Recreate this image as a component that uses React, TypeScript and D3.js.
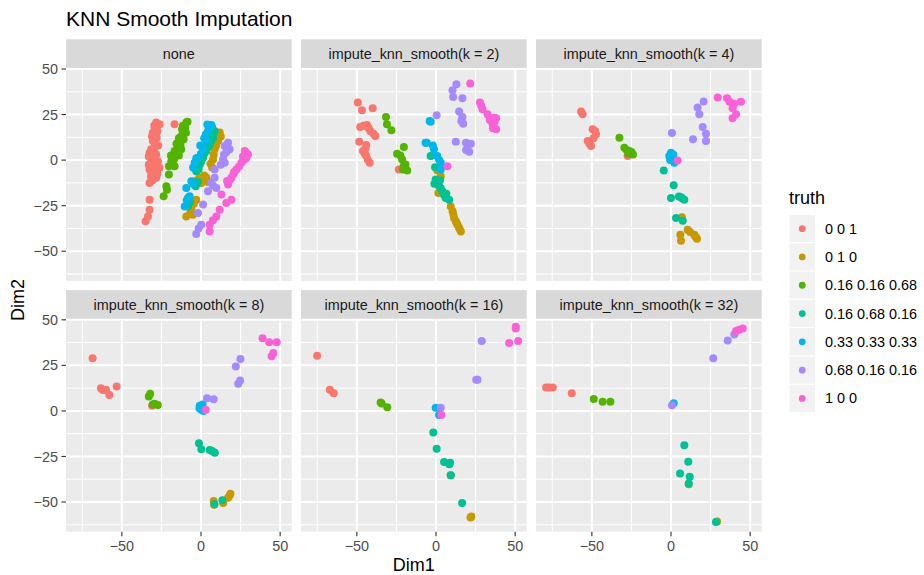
import * as d3 from 'd3';

type Pt = [number, number, number]; // [truth index, Dim1, Dim2]

const truthLevels = ['0 0 1', '0 1 0', '0.16 0.16 0.68', '0.16 0.68 0.16', '0.33 0.33 0.33', '0.68 0.16 0.16', '1 0 0'];
const truthColors = ['#F8766D', '#C49A00', '#53B400', '#00C094', '#00B6EB', '#A58AFF', '#FB61D7'];
const facetTitles = ['none', 'impute_knn_smooth(k = 2)', 'impute_knn_smooth(k = 4)', 'impute_knn_smooth(k = 8)', 'impute_knn_smooth(k = 16)', 'impute_knn_smooth(k = 32)'];
const xTicks = [-50, 0, 50];
const xMinor = [-75, -25, 25];
const yTicks = [-50, -25, 0, 25, 50];
const yMinor = [-62.5, -37.5, -12.5, 12.5, 37.5];

const noneData: Pt[] = [
  [0, -28.3, 20.6], [0, -26.2, 19.7], [0, -29.3, 17.8], [0, -16.7, 19.7], [0, -27.5, 16], [0, -28.3, 14.2], [0, -30.4, 10.5], [0, -28, 12],
  [0, -29.3, 6.8], [0, -27, 8], [0, -32.5, 4.0], [0, -28.3, 3.1], [0, -31.4, -0.6], [0, -27.2, -0.6], [0, -29, 1.5], [0, -32.5, -5.1],
  [0, -29.3, -6.1], [0, -26.2, -4.2], [0, -31.4, -7.9], [0, -28.3, -9.7], [0, -30, -3], [0, -32.5, -12.5], [0, -30.5, -11],
  [0, -29.5, 19], [0, -30.5, 15], [0, -31, 13], [0, -29, 9], [0, -31.5, 6], [0, -30, 4.5], [0, -33, 2], [0, -28.5, -2.5],
  [0, -33, -2.5], [0, -27.5, -7.5], [0, -30, -8.5], [0, -31.5, -9.5],
  [0, -32.5, -21.7], [0, -32.5, -27.2], [0, -33.5, -30.9], [0, -35.0, -33.6],
  [1, 11.8, 15.1], [1, 12.5, 13], [1, 10.8, 10.5], [1, 9.5, 8], [1, 8.6, 5.9], [1, 8, 3], [1, 7.6, 0.4], [1, 6, -2], [1, 3.4, -9.7],
  [1, 1.5, -11], [1, 0.2, -12.5], [1, -2, -11], [1, -4.0, -11.6], [1, 2, -8.5], [1, -1, -9.5], [1, 4.5, -12], [1, 10, 12], [1, 7, -4],
  [1, -3.0, -21.7], [1, -4.5, -24], [1, -6.1, -26.3], [1, -9.3, -30.9], [1, -7, -29.5], [1, -5.1, -30.0],
  [2, -9.3, 20.6], [2, -8.5, 21], [2, -11.4, 18.8], [2, -10.3, 16.0], [2, -12.4, 13.2], [2, -11.5, 14], [2, -13.5, 10.5], [2, -14.6, 7.7],
  [2, -13, 8.5], [2, -16.7, 5.0], [2, -15.5, 3.5], [2, -17.7, 2.2], [2, -18.8, -0.6], [2, -16.7, -3.3], [2, -20.3, -3.3], [2, -20.3, -7.9],
  [2, -10, 18], [2, -12, 17], [2, -9.5, 15], [2, -11, 11.5], [2, -14, 12], [2, -12.5, 6], [2, -15.5, 9], [2, -14, 2.5], [2, -17, 0.5],
  [2, -19, 2.5], [2, -18, -2],
  [2, -21.9, -14.3], [2, -21.5, -16.2], [2, -23.6, -19.9],
  [3, 8.6, 16.0], [3, 7, 18], [3, 7.6, 12.3], [3, 6, 13], [3, 5.5, 8.6], [3, 4.5, 10], [3, 3.4, 5.0], [3, 2.5, 6.5], [3, 1.3, 1.3],
  [3, 0.5, 3], [3, -0.8, -2.4], [3, -2, 0], [3, -3.0, -6.1], [3, -1.5, -5], [3, 8, 15], [3, 6.5, 10.5], [3, 4.5, 7], [3, 2, 3.5],
  [3, 0, -1], [3, -2.5, -3.5], [3, -3.4, -14.3], [3, -2, -12], [3, -8.2, -20.8], [3, -8.2, -25.4], [3, -7, -23],
  [4, 6.5, 19.3], [4, 4, 19.5], [4, 4.4, 16.0], [4, 3, 14], [4, 3.4, 10.5], [4, 1.3, 5.9], [4, -0.5, 8], [4, -1.9, 1.3], [4, -4.0, -1.5],
  [4, -5, -4], [4, 2, 12], [4, 0, 3.5], [4, -3, 1], [4, -6.1, -11.6], [4, -5, -13], [4, -9.3, -15.3], [4, -7.2, -19.9], [4, -10.3, -25.4],
  [4, -9, -22],
  [5, 17.1, 9.6], [5, 15.0, 7.7], [5, 18.1, 5.9], [5, 16, 4.5], [5, 13.9, 0.4], [5, 15.0, -1.5], [5, 12.5, -2.5], [5, 8.6, -5.1],
  [5, 16.5, 8], [5, 14.5, 3], [5, 8.6, -9.7], [5, 6.5, -12.5], [5, 9.7, -15.3], [5, 7.5, -14], [5, 4.4, -17.1], [5, 1.3, -24.4],
  [5, -1.9, -29.0], [5, 0.2, -35.5], [5, -1.5, -37.5], [5, -3.0, -40.6],
  [6, 27.6, 5.0], [6, 29.7, 3.1], [6, 28.5, 1], [6, 25.5, -1.5], [6, 27, 0], [6, 22.4, -5.1], [6, 24, -3.5], [6, 19.2, -9.7],
  [6, 20.5, -7.5], [6, 17.1, -13.4], [6, 18, -11], [6, 28.5, 4], [6, 26.5, 2], [6, 21, -6.5], [6, 16.5, -11.5], [6, 12.9, -18.9],
  [6, 19.2, -21.7], [6, 16.0, -23.5], [6, 11.8, -27.2], [6, 9.7, -30.9], [6, 7.5, -33], [6, 5.5, -35.5], [6, 5.5, -39.2],
];

const k2Data: Pt[] = [
  [0, -49.4, 31.6], [0, -46.8, 27.4], [0, -40.0, 28.5], [0, -47.9, 18.2], [0, -45.8, 18.8], [0, -43.6, 19.3], [0, -41.5, 16.0],
  [0, -38.3, 13.2], [0, -48.5, 10.1], [0, -44.1, 8.3], [0, -46.2, 5.0], [0, -45, 3.5], [0, -44.1, 2.2], [0, -41.9, -1.5], [0, -43, 0],
  [0, -44.5, 6.5], [0, -42.5, 17.5], [0, -39.5, 14.5], [0, -23.5, -5.1],
  [1, 0.8, -5.7], [1, 3.0, -8.8], [1, 1.5, -18.0], [1, 9.3, -25.4], [1, 10.5, -28], [1, 11.4, -31.8], [1, 12.5, -33.5], [1, 13.6, -35.5],
  [1, 14.5, -37], [1, 15.7, -39.2], [1, 11, -30], [1, 13, -34.5], [1, 15, -38],
  [2, -31.6, 23.7], [2, -31.0, 19.7], [2, -28.2, 16.4], [2, -20.3, 7.2], [2, -24.6, 3.5], [2, -22.5, 2.5], [2, -21.4, 0.4],
  [2, -19.3, -2.4], [2, -18.2, -5.7], [2, -21.0, -5.1], [2, -20.5, -3.5],
  [3, -5.9, 9.6], [3, -3.4, 2.2], [3, -0.6, -3.9], [3, -0.2, -10.7], [3, 1, -12], [3, 1.9, -14.3], [3, 3, -15.5], [3, 4.0, -17.1],
  [3, 5, -19], [3, 6.1, -20.8], [3, 8.3, -21.7], [3, -1, -13], [3, 2.5, -11], [3, 6.5, -18.5],
  [4, -3.4, 21.1], [4, -6.6, 9.6], [4, -1.3, 5.9], [4, -2, 8], [4, 0.8, 2.2], [4, 2, 0], [4, 3.0, -1.5], [4, 3.0, -5.1], [4, -4, 21.5],
  [5, 12.9, 41.7], [5, 10.4, 38.4], [5, 10.8, 34.7], [5, 16.7, 34.0], [5, 0.4, 24.6], [5, 14.6, 26.7], [5, 16.7, 23.7], [5, 17.2, 20.0],
  [5, 16, 21.5], [5, 12.5, 10.1], [5, 18.9, 9.6], [5, 22.0, 9.0], [5, 21.0, 4.6], [5, 19, 5.5], [5, 20, 8],
  [6, 21.6, 42.1], [6, 27.8, 31.6], [6, 29.4, 27.9], [6, 32.6, 25.2], [6, 36.9, 23.3], [6, 35.8, 19.7], [6, 38.0, 16.9], [6, 37, 21],
  [6, 34, 22], [6, 28.5, 30], [6, 38, 23], [6, 36, 17.5], [6, 7.2, -3.3],
];

const k4Data: Pt[] = [
  [0, -56.8, 26.7], [0, -55.8, 25.2], [0, -49.5, 16.9], [0, -47.4, 14.2], [0, -52.6, 10.5], [0, -50.5, 7.7], [0, -49, 12], [0, -51.5, 9],
  [0, -48, 16], [0, -27.4, 2.2],
  [1, 6.9, -31.4], [1, 10.5, -38.2], [1, 12, -39.5], [1, 14.7, -41.0], [1, 5.9, -41.0], [1, 6.3, -44.3], [1, 16.4, -43.2], [1, 15.5, -42],
  [2, -32.6, 12.3], [2, -29.5, 6.8], [2, -28, 5.5], [2, -26.3, 5.0], [2, -24.0, 3.1], [2, -25, 4.5], [2, -27, 3.5],
  [3, -4.6, -5.7], [3, 1.7, -13.8], [3, 0, -20.8], [3, 6.3, -20.4], [3, 8.4, -21.7], [3, 7, -21], [3, 5, -20], [3, 3.2, -31.8], [3, 7.4, -33.3],
  [4, 0, 4.0], [4, -1.1, 2.2], [4, 2.1, -1.5], [4, 1, 0.5], [4, 1.5, 3], [4, -0.5, 0],
  [5, 0.6, 14.9], [5, 20.6, 32.2], [5, 16.8, 28.9], [5, 17.9, 25.2], [5, 20.0, 18.2], [5, 22.1, 14.5], [5, 22.1, 10.5], [5, 13.9, 11.4],
  [6, 29.5, 34.4], [6, 35.4, 34.0], [6, 44.2, 32.0], [6, 38.9, 28.5], [6, 41.1, 25.2], [6, 38.9, 23.0], [6, 40, 31], [6, 37, 32], [6, 4.2, -0.2],
];

const k8Data: Pt[] = [
  [0, -68.5, 28.9], [0, -63.2, 12.5], [0, -62, 11.5], [0, -60.0, 11.6], [0, -57.9, 8.8], [0, -53.3, 13.4], [0, -30.9, 2.8],
  [1, 8.0, -49.4], [1, 8.3, -51.5], [1, 14.0, -50.6], [1, 17.1, -47.6], [1, 18.6, -45.4], [1, 18, -46.5],
  [2, -33.0, 7.9], [2, -32.1, 9.4], [2, -29.4, 3.9], [2, -27.3, 3.3], [2, -30.5, 3.5],
  [3, -1.3, -17.8], [3, 0.2, -21.1], [3, 5.5, -21.5], [3, 7, -22], [3, 8.7, -23.0], [3, 8.5, -51.3], [3, 13.5, -49.1],
  [4, -0.8, 2.8], [4, 0.2, 0.6], [4, -1, 1.5], [4, 1, 3.5], [4, 1.5, 0],
  [5, 3.8, 7.0], [5, 8.0, 6.4], [5, 22.0, 24.4], [5, 24.9, 28.5], [5, 23.5, 14.9], [5, 24.7, 16.7],
  [6, 3.0, 0.6], [6, 38.9, 39.9], [6, 43.1, 37.7], [6, 47.8, 37.7], [6, 45.7, 31.8], [6, 44.6, 30.0],
];

const k16Data: Pt[] = [
  [0, -75.1, 30.3], [0, -67.1, 11.6], [0, -64.6, 9.7],
  [1, 22.4, -57.9], [1, 21.8, -58.5], [1, 9.3, -35.3],
  [2, -35.0, 4.6], [2, -34.3, 4.1], [2, -30.8, 2.0],
  [3, -1.7, -11.9], [3, 0.4, -20.8], [3, 5.1, -28.1], [3, 8.9, -28.5], [3, 8.4, -29.3], [3, 9.3, -35.3], [3, 16.5, -50.6],
  [4, -0.2, 1.8], [4, 1.9, -2.2],
  [5, 28.9, 38.4], [5, 26.2, 17.1], [5, 25.4, 17.1], [5, 3.0, 1.8],
  [6, 50.4, 45.2], [6, 50.4, 46.2], [6, 46.2, 37.3], [6, 51.9, 38.4], [6, 3.4, -2.2],
];

const k32Data: Pt[] = [
  [0, -78.9, 12.9], [0, -74.7, 12.9], [0, -77, 12.9], [0, -62.7, 9.7],
  [1, 11.2, -40.3], [1, 29.1, -60.7],
  [2, -48.8, 6.6], [2, -43.2, 5.1], [2, -38.3, 5.1],
  [3, 8.4, -18.8], [3, 10.9, -27.9], [3, 5.7, -34.4], [3, 11.8, -36.2], [3, 11.2, -39.9], [3, 28.4, -61.0],
  [4, 1.7, 4.2],
  [5, 0.6, 3.1], [5, 26.7, 28.9], [5, 35.8, 38.6], [5, 40.0, 41.9],
  [6, 41.1, 43.8], [6, 45.3, 45.2], [6, 43, 44.5],
];

const facetData = [noneData, k2Data, k4Data, k8Data, k16Data, k32Data];

const FONT = '"Liberation Sans", Arial, Helvetica, sans-serif';
const W = 924;
const H = 575;
const panelLefts = [66, 301, 536];
const panelW = 225.7;
const stripTops = [39.3, 290.1];
const stripH = 29;
const panelH = 212.6;

const x = d3.scaleLinear().domain([-85.3, 57.3]).range([0, panelW]);
const y = d3.scaleLinear().domain([-66.3, 50.4]).range([panelH, 0]);

const fmt = (v: number) => String(v).replace('-', '\u2212');

export default function App() {
  return (
    <div style={{ position: 'absolute', left: 0, top: 0 }}>
      <svg width={W} height={H} style={{ display: 'block', fontFamily: FONT }}>
        <rect width={W} height={H} fill="#fff" />
        <text x={66} y={26} fontSize={21} fill="#000">KNN Smooth Imputation</text>

        {facetData.map((pts, fi) => {
          const col = fi % 3;
          const row = Math.floor(fi / 3);
          const left = panelLefts[col];
          const stripTop = stripTops[row];
          const top = stripTop + stripH;
          return (
            <g key={fi}>
              <rect x={left} y={stripTop} width={panelW} height={stripH} fill="#D9D9D9" />
              <text x={left + panelW / 2} y={stripTop + stripH / 2} dy="0.35em" textAnchor="middle" fontSize={14.4} fill="#1A1A1A">
                {facetTitles[fi]}
              </text>
              <g transform={`translate(${left},${top})`}>
                <rect width={panelW} height={panelH} fill="#EBEBEB" />
                {xMinor.map(v => <line key={'xm' + v} x1={x(v)} x2={x(v)} y1={0} y2={panelH} stroke="#fff" strokeWidth={1} />)}
                {yMinor.map(v => <line key={'ym' + v} y1={y(v)} y2={y(v)} x1={0} x2={panelW} stroke="#fff" strokeWidth={1} />)}
                {xTicks.map(v => <line key={'xM' + v} x1={x(v)} x2={x(v)} y1={0} y2={panelH} stroke="#fff" strokeWidth={2} />)}
                {yTicks.map(v => <line key={'yM' + v} y1={y(v)} y2={y(v)} x1={0} x2={panelW} stroke="#fff" strokeWidth={2} />)}
                {pts.map((p, i) => (
                  <circle key={i} cx={x(p[1])} cy={y(p[2])} r={4} fill={truthColors[p[0]]} />
                ))}
                {col === 0 && yTicks.map(v => (
                  <g key={'yt' + v} transform={`translate(0,${y(v)})`}>
                    <line x1={-4.5} x2={0} stroke="#333" strokeWidth={1.1} />
                    <text x={-8} dy="0.35em" textAnchor="end" fontSize={14.4} fill="#4D4D4D">{fmt(v)}</text>
                  </g>
                ))}
                {row === 1 && xTicks.map(v => (
                  <g key={'xt' + v} transform={`translate(${x(v)},${panelH})`}>
                    <line y1={0} y2={4.5} stroke="#333" strokeWidth={1.1} />
                    <text y={19.5} textAnchor="middle" fontSize={14.4} fill="#4D4D4D">{fmt(v)}</text>
                  </g>
                ))}
              </g>
            </g>
          );
        })}

        <text x={(panelLefts[0] + panelLefts[2] + panelW) / 2} y={571} textAnchor="middle" fontSize={18} fill="#000">Dim1</text>
        <text transform={`translate(24,${(stripTops[0] + stripH + stripTops[1] + stripH + panelH) / 2}) rotate(-90)`} textAnchor="middle" fontSize={18} fill="#000">Dim2</text>

        <text x={789} y={204} fontSize={18} fill="#000">truth</text>
        {truthLevels.map((lv, i) => {
          const ky = 214.5 + i * 28.3;
          return (
            <g key={lv}>
              <rect x={789} y={ky} width={26.5} height={28.3} fill="#F2F2F2" stroke="#fff" strokeWidth={1} />
              <circle cx={789 + 13.25} cy={ky + 14.15} r={3.4} fill={truthColors[i]} />
              <text x={825} y={ky + 14.15} dy="0.35em" fontSize={14.4} fill="#000">{lv}</text>
            </g>
          );
        })}
      </svg>
    </div>
  );
}
